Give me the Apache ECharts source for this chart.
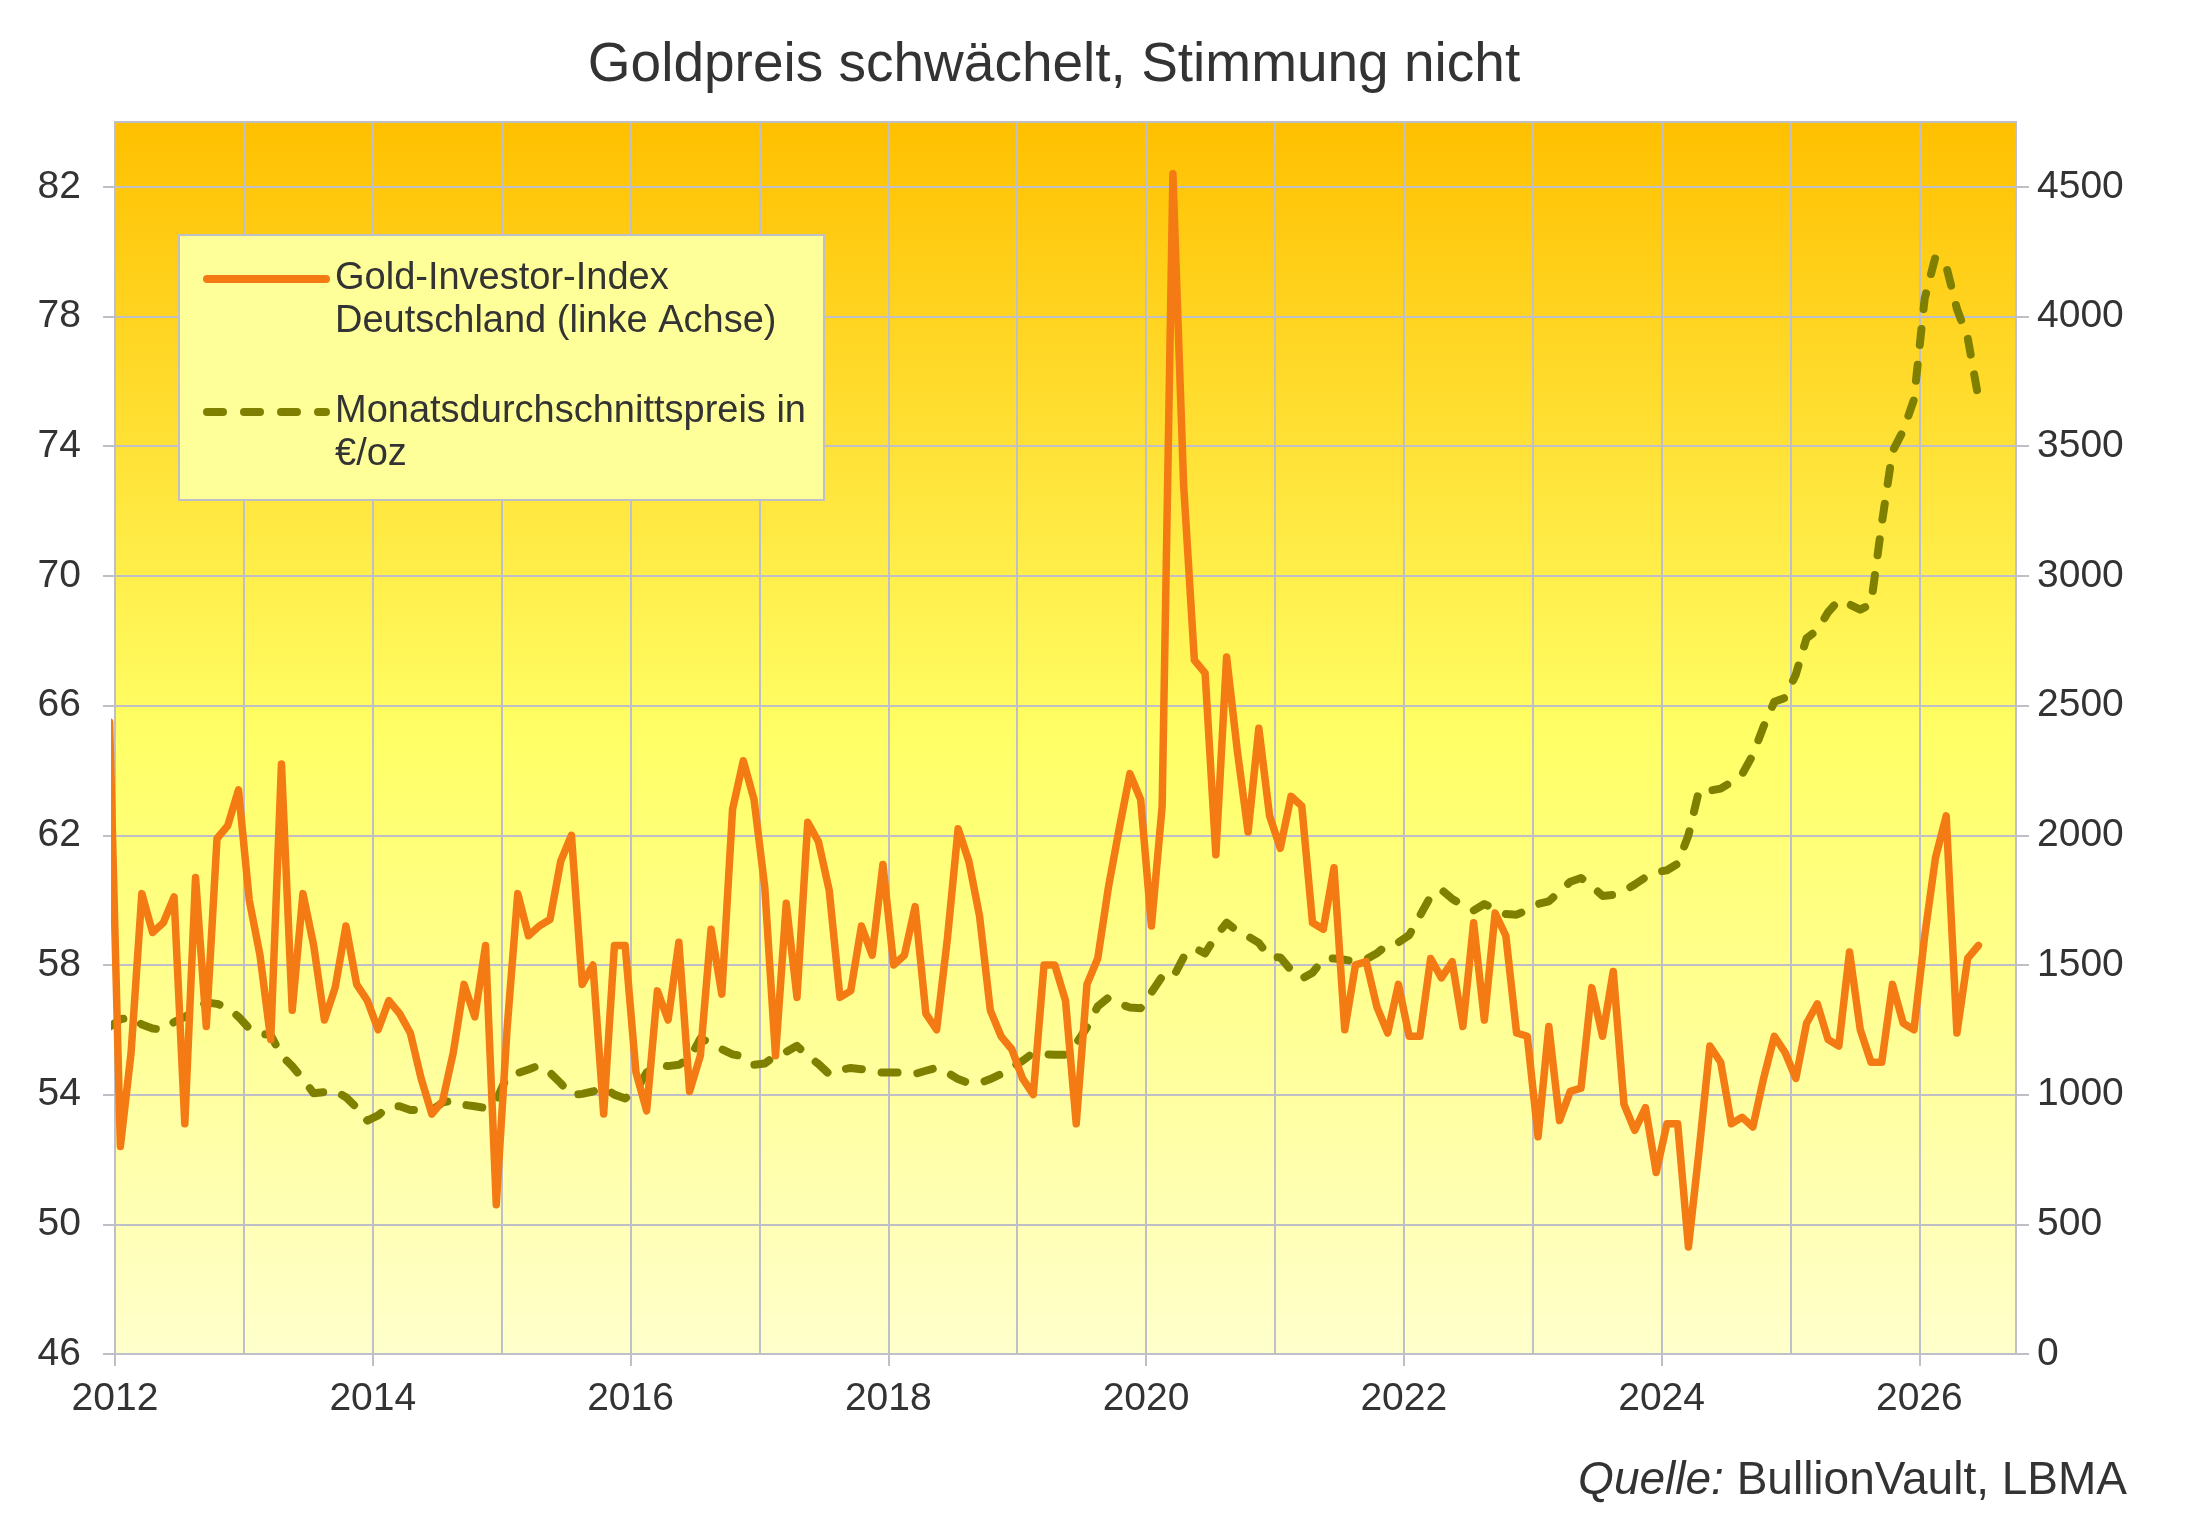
<!DOCTYPE html>
<html>
<head>
<meta charset="utf-8">
<title>Goldpreis schwächelt, Stimmung nicht</title>
<script src="https://cdn.jsdelivr.net/npm/echarts@6/dist/echarts.min.js"></script>
<style>
html, body { margin: 0; padding: 0; background: #ffffff; }
#chart { width: 2200px; height: 1526px; }
</style>
</head>
<body>
<div id="chart"></div>
<script>
// Monatswerte ab Dezember 2011 (erster Punkt liegt links vom Achsenanfang)
var startYear = 2011;
var startMonth = 12;

// Gold-Investor-Index Deutschland (linke Achse)
var investorIndex = [
    65.5,
    52.4, 55.3, 60.2, 59.0, 59.3, 60.1, 53.1, 60.7, 56.1, 61.9, 62.3, 63.4,
    60.0, 58.3, 55.7, 64.2, 56.6, 60.2, 58.6, 56.3, 57.3, 59.2, 57.4, 56.9,
    56.0, 56.9, 56.5, 55.9, 54.5, 53.4, 53.8, 55.3, 57.4, 56.4, 58.6, 50.6,
    56.0, 60.2, 58.9, 59.2, 59.4, 61.2, 62.0, 57.4, 58.0, 53.4, 58.6, 58.6,
    54.7, 53.5, 57.2, 56.3, 58.7, 54.1, 55.2, 59.1, 57.1, 62.8, 64.3, 63.1,
    60.4, 55.2, 59.9, 57.0, 62.4, 61.8, 60.3, 57.0, 57.2, 59.2, 58.3, 61.1,
    58.0, 58.3, 59.8, 56.5, 56.0, 58.8, 62.2, 61.2, 59.5, 56.6, 55.8, 55.4,
    54.5, 54.0, 58.0, 58.0, 56.9, 53.1, 57.4, 58.2, 60.4, 62.2, 63.9, 63.1,
    59.2, 62.9, 82.4, 72.8, 67.4, 67.0, 61.4, 67.5, 64.6, 62.1, 65.3, 62.6,
    61.6, 63.2, 62.9, 59.3, 59.1, 61.0, 56.0, 58.0, 58.1, 56.7, 55.9, 57.4,
    55.8, 55.8, 58.2, 57.6, 58.1, 56.1, 59.3, 56.3, 59.6, 58.9, 55.9, 55.8,
    52.7, 56.1, 53.2, 54.1, 54.2, 57.3, 55.8, 57.8, 53.7, 52.9, 53.6, 51.6,
    53.1, 53.1, 49.3, 52.3, 55.5, 55.0, 53.1, 53.3, 53.0, 54.5, 55.8, 55.3,
    54.5, 56.2, 56.8, 55.7, 55.5, 58.4, 56.0, 55.0, 55.0, 57.4, 56.2, 56.0,
    58.9, 61.3, 62.6, 55.9, 58.2, 58.6
];

// Monatsdurchschnittspreis in Euro je Unze (rechte Achse)
var monthlyPrice = [
    1262,
    1290, 1300, 1270, 1255, 1250, 1280, 1300, 1325, 1355, 1350, 1335, 1300,
    1255, 1235, 1230, 1150, 1110, 1060, 1005, 1010, 1015, 990, 950, 900,
    920, 955, 955, 941, 941, 940, 970, 977, 961, 955, 948, 977,
    1070, 1083, 1097, 1113, 1085, 1044, 998, 1003, 1012, 1028, 1000, 985,
    1015, 1085, 1115, 1110, 1115, 1140, 1216, 1200, 1175, 1155, 1148, 1115,
    1120, 1150, 1165, 1188, 1150, 1118, 1079, 1095, 1103, 1098, 1090, 1085,
    1085, 1085, 1080, 1092, 1104, 1085, 1060, 1044, 1044, 1060, 1079, 1105,
    1130, 1161, 1156, 1154, 1154, 1197, 1260, 1340, 1374, 1350, 1336, 1333,
    1394, 1456, 1450, 1530, 1565, 1545, 1610, 1663, 1630, 1610, 1585, 1530,
    1529, 1480, 1447, 1470, 1522, 1525, 1520, 1513, 1522, 1545, 1580, 1587,
    1615, 1690, 1765, 1790, 1755, 1730, 1710, 1735, 1715, 1696, 1694, 1712,
    1735, 1745, 1783, 1821, 1835, 1805, 1766, 1770, 1785, 1810, 1838, 1858,
    1865, 1890, 2000, 2175, 2172, 2180, 2205, 2235, 2310, 2420, 2515, 2530,
    2620, 2760, 2790, 2860, 2906, 2890, 2870, 2891, 3200, 3480, 3560, 3680,
    4070, 4230, 4195, 4030, 3918, 3686
];

var seriesNames = [
    'Gold-Investor-Index\nDeutschland (linke Achse)',
    'Monatsdurchschnittspreis in\n€/oz'
];

var fontName = "'Liberation Sans', Arial, Helvetica, sans-serif";
var textColor = '#333333';
var gridColor = '#bfbfc7';

// Monatsmitte als Jahreszahl mit Nachkommastellen
function monthPos(i) {
    return startYear + (startMonth - 1 + i + 0.5) / 12;
}

function toPairs(values) {
    var out = [];
    for (var i = 0; i < values.length; i++) {
        out.push([monthPos(i), values[i]]);
    }
    return out;
}

var dom = document.getElementById('chart');
var myChart = echarts.init(dom, null, { renderer: 'canvas' });

var option = {
    animation: false,
    backgroundColor: '#ffffff',
    textStyle: { fontFamily: fontName },

    title: [
        {
            text: 'Goldpreis schwächelt, Stimmung nicht',
            left: 1054,
            top: 38,
            padding: 0,
            textAlign: 'center',
            textStyle: {
                fontFamily: fontName,
                fontSize: 55,
                fontWeight: 'normal',
                color: textColor
            }
        },
        {
            text: '{i|Quelle:} BullionVault, LBMA',
            right: 73,
            top: 1458,
            padding: 0,
            textStyle: {
                fontFamily: fontName,
                fontSize: 46,
                fontWeight: 'normal',
                color: textColor,
                rich: {
                    i: {
                        fontFamily: fontName,
                        fontSize: 46,
                        fontStyle: 'italic',
                        color: textColor
                    }
                }
            }
        }
    ],

    graphic: [
        {
            type: 'rect',
            left: 178,
            top: 234,
            z: 3,
            shape: { width: 645, height: 265 },
            style: { fill: '#ffff99', stroke: gridColor, lineWidth: 2 }
        }
    ],

    legend: {
        orient: 'vertical',
        left: 203,
        top: 214.5,
        padding: 0,
        itemGap: 4,
        itemWidth: 119,
        itemHeight: 14,
        z: 4,
        data: [
            { name: seriesNames[0], lineStyle: { width: 8, cap: 'round' } },
            { name: seriesNames[1], lineStyle: { width: 8, type: [16, 21], cap: 'round' } }
        ],
        itemStyle: { opacity: 0 },
        // leere erste Zeile: so steht die erste Textzeile auf Hoehe des Symbols
        formatter: function (name) { return '\n' + name; },
        textStyle: {
            fontFamily: fontName,
            fontSize: 38,
            lineHeight: 43,
            color: textColor,
            padding: [0, 0, 0, 4]
        }
    },

    grid: {
        left: 115,
        right: 184,
        top: 122,
        bottom: 172,
        show: true,
        borderColor: gridColor,
        borderWidth: 2,
        backgroundColor: new echarts.graphic.LinearGradient(0, 0, 0, 1, [
            { offset: 0, color: '#ffc000' },
            { offset: 0.5, color: '#ffff66' },
            { offset: 1, color: '#ffffcc' }
        ])
    },

    xAxis: [
        {
            type: 'value',
            min: 2012,
            max: 2026.75,
            interval: 2,
            axisLine: { show: true, lineStyle: { color: gridColor, width: 2 } },
            axisTick: { show: true, length: 12, lineStyle: { color: gridColor, width: 2 } },
            splitLine: { show: false },
            axisLabel: {
                showMaxLabel: false,
                margin: 26,
                fontFamily: fontName,
                fontSize: 39,
                color: textColor,
                formatter: function (v) { return String(v); }
            }
        },
        {
            type: 'value',
            position: 'top',
            min: 2012,
            max: 2026.75,
            interval: 1,
            axisLine: { show: false },
            axisTick: { show: false },
            axisLabel: { show: false },
            splitLine: { show: true, lineStyle: { color: gridColor, width: 2 } }
        }
    ],

    yAxis: [
        {
            type: 'value',
            min: 46,
            max: 84,
            interval: 4,
            axisLine: { show: false },
            axisTick: { show: true, length: 12, lineStyle: { color: gridColor, width: 2 } },
            splitLine: { show: true, lineStyle: { color: gridColor, width: 2 } },
            axisLabel: {
                showMaxLabel: false,
                margin: 34,
                fontFamily: fontName,
                fontSize: 39,
                color: textColor
            }
        },
        {
            type: 'value',
            position: 'right',
            min: 0,
            max: 4750,
            interval: 500,
            axisLine: { show: false },
            axisTick: { show: true, length: 13, lineStyle: { color: gridColor, width: 2 } },
            splitLine: { show: false },
            axisLabel: {
                showMaxLabel: false,
                margin: 21,
                fontFamily: fontName,
                fontSize: 39,
                color: textColor,
                formatter: function (v) { return String(v); }
            }
        }
    ],

    series: [
        {
            name: seriesNames[0],
            type: 'line',
            xAxisIndex: 0,
            yAxisIndex: 0,
            data: toPairs(investorIndex),
            symbol: 'none',
            clip: true,
            z: 2,
            lineStyle: { color: '#f47a14', width: 7.5, cap: 'round', join: 'round' },
            itemStyle: { color: '#f47a14' }
        },
        {
            name: seriesNames[1],
            type: 'line',
            xAxisIndex: 0,
            yAxisIndex: 1,
            data: toPairs(monthlyPrice),
            symbol: 'none',
            clip: true,
            z: 1,
            lineStyle: { color: '#808000', width: 8, type: [16, 20], cap: 'round', join: 'round' },
            itemStyle: { color: '#808000' }
        }
    ]
};

if (option && typeof option === 'object') {
    myChart.setOption(option, true);
}
</script>
</body>
</html>
